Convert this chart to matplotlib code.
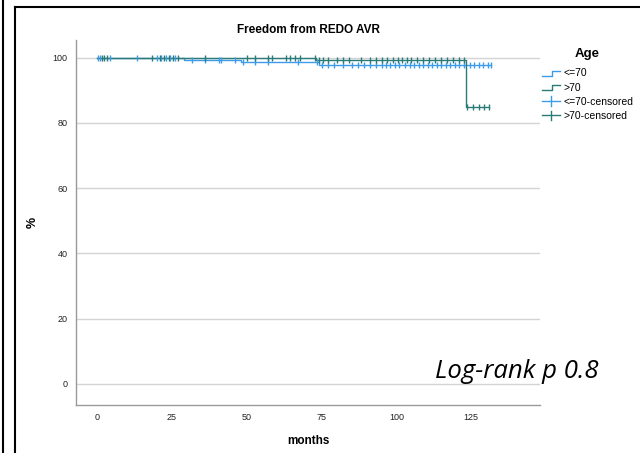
import numpy as np
import matplotlib
matplotlib.use("Agg")
import matplotlib.pyplot as plt
from matplotlib.lines import Line2D
from matplotlib.legend_handler import HandlerBase

# survival steps (months, %)
le70_times = [0, 29, 48, 74, 131.5]
le70_surv = [100, 99.3, 98.6, 97.9, 97.9]
gt70_times = [0, 73, 123.3, 131]
gt70_surv = [100, 99.2, 85, 85]

# censored times
le70_cens = [0.3, 1.0, 4.3, 13.3, 20, 21.5, 23, 24.5, 26, 31.7, 36, 40.7, 41.5, 46,
             48.7, 52.7, 57, 67, 73.5, 75, 77, 79, 82, 85, 87, 89, 91, 93, 95, 96.5,
             98, 99.5, 101, 103, 104.5, 106, 107.5, 109, 110.5, 112, 113.5, 115,
             116.5, 118, 119.5, 121, 122.5, 124.5, 126, 127.5, 129, 130.5, 131.5]
gt70_cens = [1.7, 2.3, 3.3, 18.3, 21, 22.5, 24, 25.5, 27, 36, 50, 52.7, 57, 58.3, 63,
             64.5, 66, 67.7, 72.7, 74, 75.5, 77, 80, 82, 84, 88, 91, 93, 95, 97, 99,
             100.5, 102, 103.5, 105, 107, 109, 111, 113, 115, 117, 119, 121, 122.5,
             123.5, 125.5, 127.5, 129.3, 131]

groups = ["<=70", ">70"]
c_le = "#3d9be9"
c_gt = "#2a7b78"

x_ticks = [0, 25, 50, 75, 100, 125]
y_ticks = [0, 20, 40, 60, 80, 100]


def step_value(times, surv, t):
    i = np.searchsorted(times, t, side="right") - 1
    return np.array(surv)[i]


class StepHandler(HandlerBase):
    # little step icon like SPSS uses
    def create_artists(self, legend, orig, xd, yd, w, h, fontsize, trans):
        xs = [xd, xd + w * 0.55, xd + w * 0.55, xd + w]
        ys = [yd + h * 0.1, yd + h * 0.1, yd + h * 0.8, yd + h * 0.8]
        ln = Line2D(xs, ys, color=orig.get_color(), lw=1, transform=trans)
        return [ln]


class CrossHandler(HandlerBase):
    def create_artists(self, legend, orig, xd, yd, w, h, fontsize, trans):
        a = Line2D([xd, xd + w], [yd + h / 2, yd + h / 2], color=orig.get_color(),
                   lw=1, transform=trans)
        b = Line2D([xd + w / 2, xd + w / 2], [yd - h * 0.15, yd + h * 1.15],
                   color=orig.get_color(), lw=1, transform=trans)
        return [a, b]


plt.rcParams['font.family'] = ['Liberation Sans', 'DejaVu Sans']

fig = plt.figure(figsize=(6.4, 4.53), dpi=100)
ax = fig.add_axes([0.119, 0.106, 0.725, 0.806])

for y in y_ticks:
    ax.axhline(y, color="#d4d4d4", lw=1, zorder=0)

l1, = ax.step(le70_times, le70_surv, where="post", color=c_le, lw=1)
l2, = ax.step(gt70_times, gt70_surv, where="post", color=c_gt, lw=1)
ax.plot(le70_cens, step_value(le70_times, le70_surv, le70_cens), ls="none",
        marker="|", ms=5, mew=1, color=c_le)
ax.plot(gt70_cens, step_value(gt70_times, gt70_surv, gt70_cens), ls="none",
        marker="|", ms=5, mew=1, color=c_gt)

ax.set_xlim(-7, 148)
ax.set_ylim(-6.5, 105.5)
ax.set_xticks(x_ticks)
ax.set_yticks(y_ticks)
ax.tick_params(length=0, labelsize=6.5, colors="#222222", pad=6)
for s in ["top", "right"]:
    ax.spines[s].set_visible(False)
for s in ["left", "bottom"]:
    ax.spines[s].set_color("#9a9a9a")
    ax.spines[s].set_linewidth(1)

ax.set_title("Freedom from REDO AVR", fontsize=8.5, fontweight="bold", pad=5)
ax.set_xlabel("months", fontsize=8.5, fontweight="bold", labelpad=9)
ax.set_ylabel("%", fontsize=9, fontweight="bold", labelpad=10)

h1 = Line2D([], [], color=c_le)
h2 = Line2D([], [], color=c_gt)
h3 = Line2D([], [], color=c_le, marker="+")
h4 = Line2D([], [], color=c_gt, marker="+")
leg = fig.legend([h1, h2, h3, h4],
                 groups + [g + "-censored" for g in groups],
                 handler_map={h1: StepHandler(), h2: StepHandler(),
                              h3: CrossHandler(), h4: CrossHandler()},
                 loc="upper left", bbox_to_anchor=(0.835, 0.91), frameon=False,
                 fontsize=7.5, title="Age", handlelength=1.75, handletextpad=0.3,
                 labelspacing=0.4, borderpad=0.2)
leg.get_title().set_fontweight("bold")
leg.get_title().set_fontsize(9.5)
leg._legend_box.align = "center"
leg._legend_box.sep = 6

fig.text(0.935, 0.166, "Log-rank p 0.8", fontsize=18.5, style="italic",
         family=["Open Sans", "DejaVu Sans"], ha="right", va="baseline")

# panel borders
fig.add_artist(Line2D([0.005, 0.005], [0, 1], color="black", lw=1.5))
fig.add_artist(Line2D([0.024, 0.024], [0, 0.985], color="black", lw=1.5))
fig.add_artist(Line2D([0.024, 1], [0.985, 0.985], color="black", lw=1.5))

fig.savefig("out.png", dpi=100)
